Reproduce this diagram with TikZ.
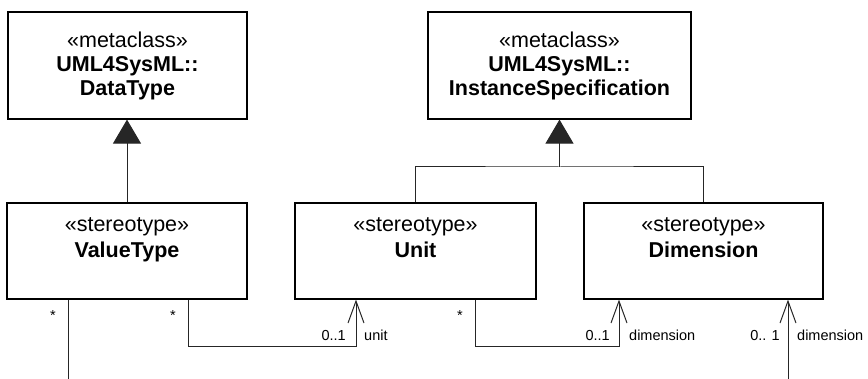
\documentclass[tikz,border=0pt]{standalone}
\usepackage{fontspec}
\setmainfont{Liberation Sans}
\usetikzlibrary{arrows.meta}
\begin{document}
\begin{tikzpicture}[x=1pt,y=-1pt,
  cls/.style={draw=black, line width=1.2pt, fill=white, rectangle, inner sep=0pt,
    align=center},
  upcls/.style={cls, minimum height=107pt, font=\fontsize{21.5}{24}\selectfont},
  lowcls/.style={cls, minimum height=96pt, text height=13pt, text depth=0pt,
    font=\fontsize{21.5}{25.5}\selectfont},
  conn/.style={draw=black!85, line width=1pt},
  gen/.style={-{Triangle[length=24pt,width=28pt]}},
  nav/.style={-{Straight Barb[length=22pt,width=16pt]}},
  lbl/.style={inner sep=0pt, font=\fontsize{14.5}{16}\selectfont}]
\useasboundingbox (0,0) rectangle (868,379);

\node[upcls, minimum width=239pt] (dt) at (127.5,65.5)
  {«metaclass»\\\textbf{UML4SysML::}\\\textbf{DataType}};
\node[upcls, minimum width=263pt] (is) at (559.5,65.5)
  {«metaclass»\\\textbf{UML4SysML::}\\\textbf{InstanceSpecification}};
\node[lowcls, minimum width=240pt] (vt) at (127,251)
  {«stereotype»\\\textbf{ValueType}};
\node[lowcls, minimum width=241pt] (unit) at (415.5,251)
  {«stereotype»\\\textbf{Unit}};
\node[lowcls, minimum width=239pt] (dim) at (703.5,251)
  {«stereotype»\\\textbf{Dimension}};

% generalizations
\draw[conn, gen] (vt.north) -- (vt.north |- dt.south);
\coordinate (jn) at (559.5,167);
\draw[conn] (unit.north) |- (jn) -| (dim.north);
\draw[conn, gen] (jn) -- (is.south);

% associations
\coordinate (f1) at (68,379);
\draw[conn] (f1 |- vt.south) -- (f1);
\coordinate (a1) at (188,347);
\coordinate (a2) at (356,347);
\draw[conn, nav] (a1 |- vt.south) -- (a1) -- (a2) -- (a2 |- unit.south);
\coordinate (b1) at (475,347);
\coordinate (b2) at (619,347);
\draw[conn, nav] (b1 |- unit.south) -- (b1) -- (b2) -- (b2 |- dim.south);
\coordinate (f2) at (788,379);
\draw[conn, nav] (f2) -- (f2 |- dim.south);

% labels
\node[lbl, anchor=base] (m1) at (53,321) {*};
\node[lbl, anchor=base] (m2) at (173,321) {*};
\node[lbl, anchor=base] (m3) at (460,321) {*};
\node[lbl, anchor=base east] (m4) at (346,341) {0..1};
\node[lbl, anchor=base west] (r1) at (364,341) {unit};
\node[lbl, anchor=base east] (m5) at (610,341) {0..1};
\node[lbl, anchor=base west] (r2) at (629,341) {dimension};
\node[lbl, anchor=base east] (m6) at (780,341) {0.. 1};
\node[lbl, anchor=base west] (r3) at (797,341) {dimension};
\end{tikzpicture}
\end{document}
